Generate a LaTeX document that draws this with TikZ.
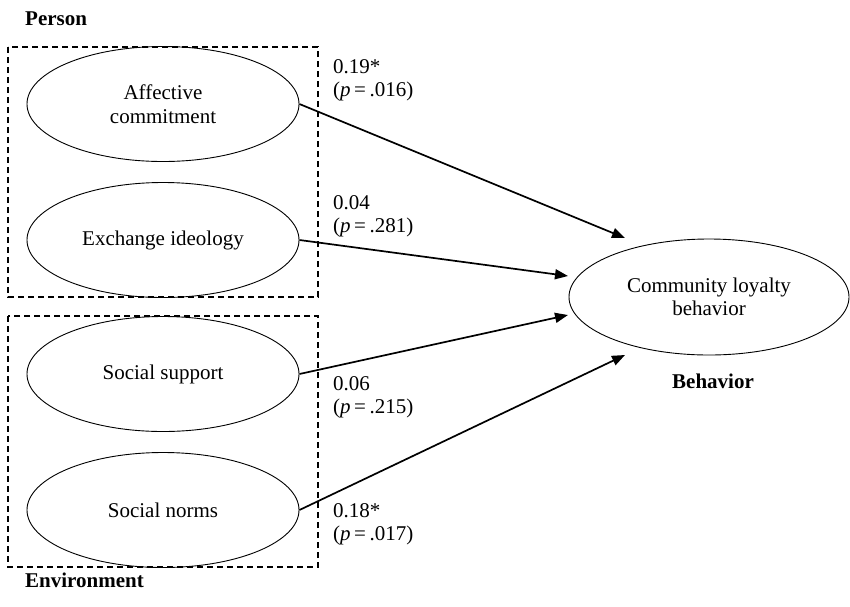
\documentclass[tikz,border=0pt]{standalone}
\usepackage{fontspec}
\setmainfont{Liberation Serif}
\usetikzlibrary{shapes.geometric,arrows.meta}
\begin{document}
\begin{tikzpicture}[x=1pt,y=-1pt,
  every node/.style={font=\fontsize{21}{23.5}\selectfont},
  oval/.style={ellipse,draw,line width=0.9pt,minimum width=272pt,minimum height=115pt,inner sep=0pt,align=center},
  bigoval/.style={ellipse,draw,line width=0.9pt,minimum width=280pt,minimum height=116pt,inner sep=0pt,align=center},
  group/.style={draw,line width=1.5pt,dash pattern=on 6pt off 4pt},
  arr/.style={line width=1.7pt,-{Triangle[length=13pt,width=10pt]}},
  coef/.style={anchor=north west,inner sep=0pt,align=left},
  head/.style={inner sep=0pt,font=\fontsize{21}{23.5}\selectfont\bfseries}]
\useasboundingbox (0,0) rectangle (850,606);
% groups
\draw[group] (8,47) rectangle (318,297);
\draw[group] (8,316) rectangle (318,567);
% nodes
\node[oval] (ac) at (163,104) {Affective\\commitment};
\node[oval] (ei) at (163,240) {Exchange ideology};
\node[oval] (ss) at (163,374) {Social support};
\node[oval] (sn) at (163,510) {Social norms};
\node[bigoval] (cl) at (709,297) {Community loyalty\\behavior};
% headings
\node[head,anchor=base west] (hp) at (25,25) {Person};
\node[head,anchor=base west] (he) at (25,587) {Environment};
\node[head,anchor=base] (hb) at (713,388) {Behavior};
% arrows
\draw[arr] (ac.east) -- ([shift={(-84,-59)}]cl.center);
\draw[arr] (ei.east) -- ([shift={(-141,-21)}]cl.center);
\draw[arr] (ss.east) -- ([shift={(-141,18)}]cl.center);
\draw[arr] (sn.east) -- ([shift={(-84,58)}]cl.center);
% coefficients
\node[coef] (c1) at (333,59) {0.19*\\(\textit{p}\,=\,.016)};
\node[coef] (c2) at (333,195) {0.04\\(\textit{p}\,=\,.281)};
\node[coef] (c3) at (333,376) {0.06\\(\textit{p}\,=\,.215)};
\node[coef] (c4) at (333,503) {0.18*\\(\textit{p}\,=\,.017)};
\end{tikzpicture}
\end{document}
